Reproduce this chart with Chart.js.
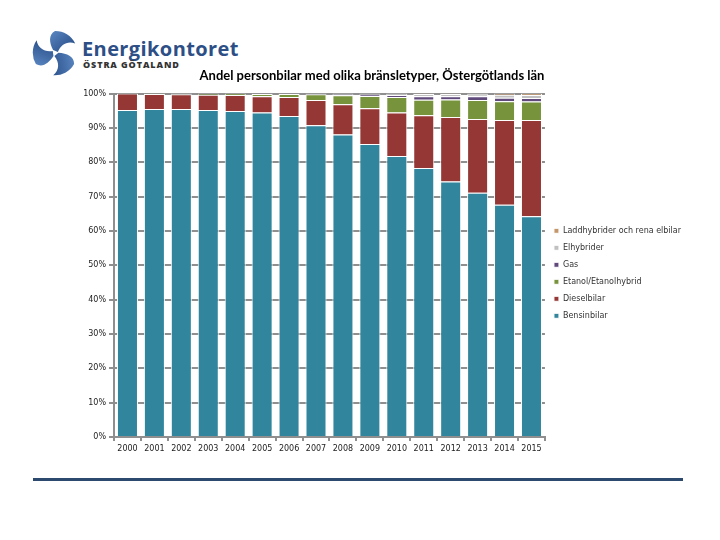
<!DOCTYPE html>
<html>
<head>
<meta charset="utf-8">
<script src="https://cdn.jsdelivr.net/npm/chart.js@4"></script>
<style>
  body { margin: 0; background: #fff; width: 720px; height: 540px; position: relative; overflow: hidden; }
  #logo { position: absolute; left: 31px; top: 29px; }
  .brand { position: absolute; left: 82px; top: 39px; font-family: "Open Sans", sans-serif; font-weight: 700; font-size: 20px; line-height: 1; color: #2d4f86; letter-spacing: 0.4px; }
  .region { position: absolute; left: 83px; top: 60px; font-family: "Open Sans", sans-serif; font-weight: 800; font-size: 9px; line-height: 1; color: #333; letter-spacing: 0.9px; }
  #wrap { position: absolute; left: 53px; top: 60px; }
  .rule { position: absolute; left: 33px; top: 478px; width: 650px; height: 3px; background: #2c4a6e; }
</style>
</head>
<body>
<svg id="logo" width="48" height="48" viewBox="0 0 50 50">
  <defs>
    <linearGradient id="bl" x1="0" y1="0" x2="1" y2="1">
      <stop offset="0" stop-color="#5b88c3"/>
      <stop offset="1" stop-color="#22467f"/>
    </linearGradient>
  </defs>
  <g fill="url(#bl)">
    <path id="blade" d="M23,22 C19,14 18,6 25,2 A23,23 0 0 1 46,15 C38,12 31,16 28,24 Z"/>
    <path d="M23,22 C19,14 18,6 25,2 A23,23 0 0 1 46,15 C38,12 31,16 28,24 Z" transform="rotate(120 25 25)"/>
    <path d="M23,22 C19,14 18,6 25,2 A23,23 0 0 1 46,15 C38,12 31,16 28,24 Z" transform="rotate(240 25 25)"/>
  </g>
</svg>
<div class="brand">Energikontoret</div>
<div class="region">ÖSTRA GÖTALAND</div>
<div id="wrap"><canvas id="andelChart" width="638" height="407"></canvas></div>
<div class="rule"></div>
<script>
// Andel personbilar per bränsletyp (%), Östergötlands län
const years = ["2000","2001","2002","2003","2004","2005","2006","2007","2008","2009","2010","2011","2012","2013","2014","2015"];
const bensin = [95.2, 95.5, 95.5, 95.2, 94.9, 94.5, 93.5, 90.8, 88.1, 85.3, 81.8, 78.3, 74.4, 71.1, 67.6, 64.3];
const diesel = [4.8, 4.4, 4.3, 4.5, 4.7, 4.7, 5.5, 7.3, 8.8, 10.4, 12.7, 15.4, 18.8, 21.5, 24.7, 28.0];
const etanol = [0, 0.1, 0.2, 0.3, 0.4, 0.7, 0.9, 1.7, 2.6, 3.6, 4.5, 4.5, 5.1, 5.5, 5.5, 5.4];
const gas = [0, 0, 0, 0, 0, 0.1, 0.1, 0.1, 0.3, 0.4, 0.6, 1.0, 0.9, 1.1, 1.0, 1.0];
const elhybrider = [0, 0, 0, 0, 0, 0, 0, 0.1, 0.2, 0.3, 0.4, 0.7, 0.7, 0.6, 0.9, 0.9];
const laddhybrider = [0, 0, 0, 0, 0, 0, 0, 0, 0, 0, 0, 0.1, 0.1, 0.2, 0.3, 0.4];

const tickFont = { family: "DejaVu Sans", size: 8 };
const axisGray = "#8f8f8f";

const andelData = {
	labels: years,
	datasets: [
		{ label: "Bensinbilar", data: bensin, backgroundColor: "#31859c" },
		{ label: "Dieselbilar", data: diesel, backgroundColor: "#953735" },
		{ label: "Etanol/Etanolhybrid", data: etanol, backgroundColor: "#77933c" },
		{ label: "Gas", data: gas, backgroundColor: "#604a7b" },
		{ label: "Elhybrider", data: elhybrider, backgroundColor: "#c0c0c0" },
		{ label: "Laddhybrider och rena elbilar", data: laddhybrider, backgroundColor: "#c4976a" },
	],
};
andelData.datasets.forEach(function (ds) {
	ds.borderColor = "#ffffff";
	ds.borderWidth = 1;
	ds.categoryPercentage = 0.78;
	ds.barPercentage = 1.0;
});

const andelConfig = {
	type: "bar",
	data: andelData,
	options: {
		responsive: false,
		animation: false,
		devicePixelRatio: 1,
		layout: { padding: 0 },
		plugins: {
			title: {
				display: true,
				text: "Andel personbilar med olika bränsletyper, Östergötlands län",
				font: { family: "Lato", size: 13, weight: "bold" },
				color: "#000",
				padding: { top: 8, bottom: 10 },
			},
			legend: {
				position: "right",
				reverse: true,
				title: { display: true, text: " ", font: { size: 8 }, padding: { top: 5, bottom: 5 } },
				labels: {
					boxWidth: 5,
					boxHeight: 5,
					padding: 9,
					font: tickFont,
					color: "#333",
				},
			},
			tooltip: { enabled: false },
		},
		scales: {
			x: {
				stacked: true,
				grid: { drawOnChartArea: false, color: axisGray, lineWidth: 2, tickLength: 4 },
				border: { color: axisGray, width: 2 },
				ticks: { font: tickFont, color: "#222", padding: 3, maxRotation: 0 },
				afterFit: function (s) { s.height = 30; },
			},
			y: {
				stacked: true,
				min: 0,
				max: 100,
				ticks: {
					stepSize: 10,
					font: tickFont,
					color: "#222",
					padding: 3,
					callback: function (v) { return v + "%"; },
				},
				grid: { color: axisGray, lineWidth: 2, tickLength: 5 },
				border: { color: axisGray, width: 2 },
				afterFit: function (s) { s.width = 61; },
			},
		},
	},
};

const andelChart = new Chart(document.getElementById("andelChart"), andelConfig);
</script>
</body>
</html>
